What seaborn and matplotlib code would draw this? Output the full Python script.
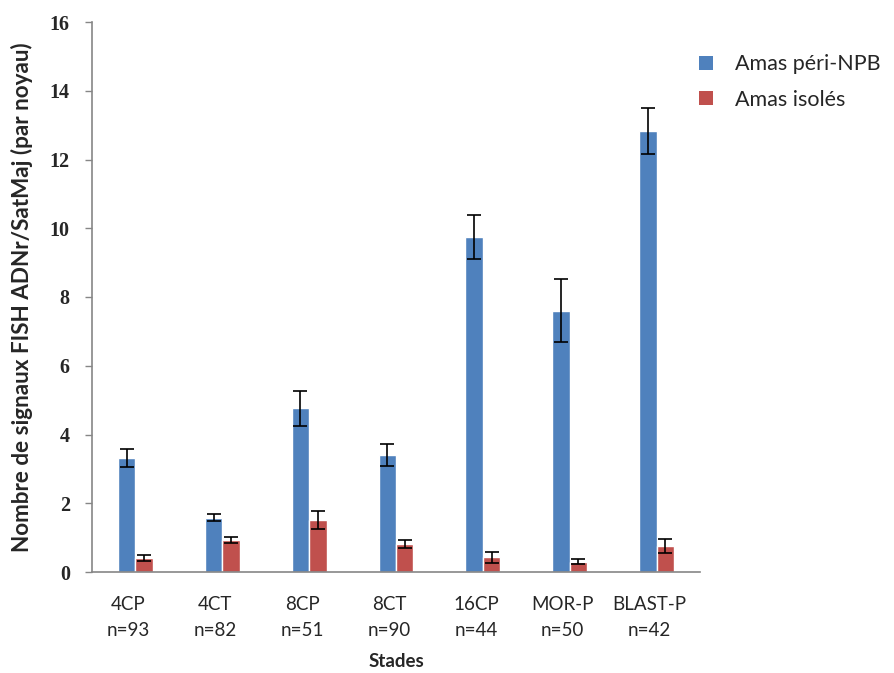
import numpy as np
import pandas as pd
import matplotlib
matplotlib.use("Agg")
import matplotlib.pyplot as plt
import matplotlib.transforms as mtransforms
from matplotlib.patches import Patch
import seaborn as sns

# data
stades = ["4CP", "4CT", "8CP", "8CT", "16CP", "MOR-P", "BLAST-P"]
effectifs = ["n=93", "n=82", "n=51", "n=90", "n=44", "n=50", "n=42"]
series = ["Amas péri-NPB", "Amas isolés"]
peri_npb = [3.32, 1.58, 4.76, 3.40, 9.75, 7.60, 12.82]
peri_npb_err = [0.27, 0.10, 0.50, 0.33, 0.64, 0.92, 0.67]
isoles = [0.40, 0.93, 1.52, 0.81, 0.43, 0.30, 0.76]
isoles_err = [0.09, 0.08, 0.26, 0.12, 0.16, 0.08, 0.20]

colors = ["#4F81BD", "#C0504D"]
axis_grey = "#868686"

df = pd.DataFrame({
    "stade": stades * 2,
    "serie": [series[0]] * len(stades) + [series[1]] * len(stades),
    "valeur": peri_npb + isoles,
})

sns.set_style("white")
plt.rcParams["font.family"] = ["Lato", "DejaVu Sans"]

fig = plt.figure(figsize=(8.95, 6.73), dpi=100)
ax = fig.add_axes([92 / 895, 101 / 673, 608 / 895, 550 / 673])

sns.barplot(data=df, x="stade", y="valeur", hue="serie", order=stades,
            hue_order=series, palette=colors, width=0.4, saturation=1,
            errorbar=None, legend=False, ax=ax)

# error bars on top of each bar container
for cont, errs in zip(ax.containers, [peri_npb_err, isoles_err]):
    xs = [b.get_x() + b.get_width() / 2 for b in cont]
    ys = [b.get_height() for b in cont]
    ax.errorbar(xs, ys, yerr=errs, fmt="none", ecolor="black",
                elinewidth=1.2, capsize=5, capthick=1.2, zorder=5)

ax.set_ylim(0, 16)
ax.set_xlim(-0.5, len(stades) - 0.5)
ax.set_yticks(range(0, 17, 2))
ax.tick_params(axis="y", direction="out", length=5, width=1, color=axis_grey,
               left=True, pad=11, labelsize=14.5)
for lab in ax.get_yticklabels():
    lab.set_family(["Liberation Serif", "DejaVu Serif"])
    lab.set_fontweight("bold")

ax.set_xticks(range(len(stades)))
ax.set_xticklabels([f"{s}\n{n}" for s, n in zip(stades, effectifs)],
                   fontsize=13.5, linespacing=1.65)
ax.tick_params(axis="x", length=0, pad=17)
# labels sit a little left of the group centres in the original
shift = mtransforms.ScaledTranslation(-7 / 100, 0, fig.dpi_scale_trans)
for lab in ax.get_xticklabels():
    lab.set_transform(lab.get_transform() + shift)

for side in ["top", "right"]:
    ax.spines[side].set_visible(False)
for side in ["left", "bottom"]:
    ax.spines[side].set_color(axis_grey)
    ax.spines[side].set_linewidth(1.2)

ax.set_xlabel("Stades", fontsize=13.5, fontweight="bold", labelpad=10)
ax.set_ylabel("Nombre de signaux FISH ADNr/SatMaj (par noyau)", fontsize=16.2,
              fontweight="bold")
ax.yaxis.set_label_coords(-0.097, 0.5)

handles = [Patch(facecolor=c, edgecolor="none") for c in colors]
fig.legend(handles, series, loc="upper left", bbox_to_anchor=(680 / 895, 1 - 35 / 673),
           frameon=False, fontsize=15.5, handlelength=0.65, handleheight=0.65,
           handletextpad=1.0, labelspacing=0.72)

fig.savefig("out.png", dpi=100)
